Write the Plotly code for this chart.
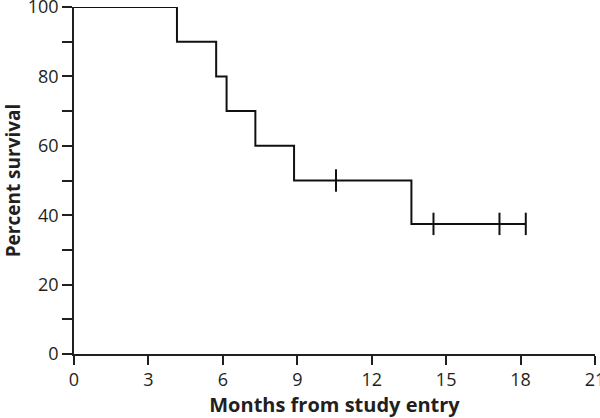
import plotly.graph_objects as go

# Kaplan-Meier step data
event_months = [0, 4.15, 5.73, 6.15, 7.31, 8.87, 13.6, 18.21]
percent_survival = [100, 90, 80, 70, 60, 50, 37.5, 37.5]
censor_months = [10.56, 14.49, 17.15, 18.21]
censor_survival = [50, 37.5, 37.5, 37.5]

x_ticks = [0, 3, 6, 9, 12, 15, 18, 21]
y_ticks = [0, 20, 40, 60, 80, 100]

FONT = "Open Sans, Lato, sans-serif"
AX = "#231f20"

fig = go.Figure()
fig.add_trace(go.Scatter(
    x=event_months, y=percent_survival, mode="lines",
    line=dict(shape="hv", color="#111111", width=2),
    cliponaxis=False, showlegend=False, hoverinfo="skip"))
fig.add_trace(go.Scatter(
    x=censor_months, y=censor_survival, mode="markers",
    marker=dict(symbol="line-ns", size=16, line=dict(color="#111111", width=2)),
    cliponaxis=False, showlegend=False, hoverinfo="skip"))

fig.update_layout(
    width=600, height=418,
    margin=dict(l=74, r=5, t=7, b=64, autoexpand=False),
    paper_bgcolor="white", plot_bgcolor="white",
    font=dict(family=FONT, color=AX, size=18),
)
fig.update_xaxes(
    range=[0, 21], tickvals=x_ticks, ticktext=[str(v) for v in x_ticks],
    showgrid=False, zeroline=False, showline=True, linecolor=AX, linewidth=1.5,
    ticks="outside", ticklen=9, tickwidth=1.5, tickcolor=AX,
    tickfont=dict(size=18, family=FONT), automargin=False, ticklabeloverflow="allow",
    title=dict(text="<b>Months from study entry</b>", font=dict(size=20, family=FONT), standoff=6),
)
fig.update_yaxes(
    range=[0, 100], tickvals=y_ticks, ticktext=[str(v) for v in y_ticks],
    showgrid=False, zeroline=False, showline=True, linecolor=AX, linewidth=1.5,
    ticks="outside", ticklen=10, tickwidth=1.5, tickcolor=AX,
    tickfont=dict(size=18, family=FONT), automargin=False, ticklabeloverflow="allow",
    minor=dict(dtick=10, tick0=0, ticks="outside", ticklen=10, tickwidth=1.5, tickcolor=AX, showgrid=False),
    title=dict(text="<b>Percent survival</b>", font=dict(size=19, family=FONT), standoff=6),
)

fig.write_html("out.html", config={"displayModeBar": False},
               post_script="document.body.style.margin='0';")
